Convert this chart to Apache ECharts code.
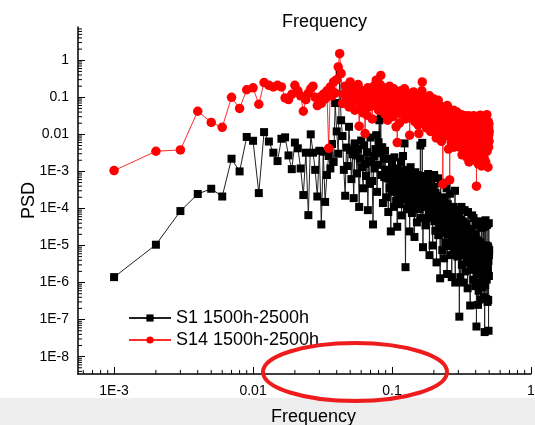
<!DOCTYPE html>
<html>
<head>
<meta charset="utf-8">
<title>PSD</title>
<script src="https://cdn.jsdelivr.net/npm/echarts@6/dist/echarts.min.js"></script>
<style>
  html, body { margin: 0; padding: 0; background: #fff; }
  #chart { width: 535px; height: 425px; }
</style>
</head>
<body>
<div id="chart"></div>
<script>
// spectrum bins are 0.001 apart: value i belongs to frequency (i + 1) * FREQ_STEP
const FREQ_STEP = 0.001;

const s1Psd = [
  1.4e-6, 1.05e-5, 8.5e-5, 2.45e-4, 3.4e-4, 2.1e-4, 2.2e-3, 1.0e-3, 8.5e-3, 6.7e-3,
  2.6e-4, 1.15e-2, 6.4e-3, 3.2e-3, 1.9e-3, 7.6e-3, 8.3e-3, 2.7e-3, 1.15e-3, 6.0e-3,
  4.2e-3, 1.2e-3, 2.3e-4, 3.2e-3, 6.6e-5, 1.0e-2, 3.2e-3, 1.1e-3, 2.1e-4, 3.6e-3,
  3.7e-5, 3.4e-3, 1.5e-4, 8.0e-4, 2.6e-3, 1.2e-3, 5.5e-3, 1.8e-3, 7.0e-2, 1.2e-2,
  3.0e-3, 4.4e-1, 2.4e-2, 9.0e-3, 1.1e-3, 2.2e-4, 4.4e-3, 1.4e-3, 1.6e-2, 3.8e-3,
  6.2e-4, 2.9e-3, 1.9e-4, 5.7e-3, 2.7e-3, 8.8e-4, 4.1e-3, 1.1e-4, 2.2e-3, 6.8e-3,
  1.3e-3, 3.5e-4, 5.1e-3, 1.6e-3, 7.5e-4, 3.3e-3, 9.0e-5, 2.0e-3, 4.6e-4, 8.2e-3,
  1.8e-3, 5.5e-4, 3.7e-5, 2.6e-3, 1.2e-3, 4.0e-3, 9.5e-3, 2.8e-4, 1.5e-3, 6.1e-3,
  2.4e-2, 3.1e-3, 2.7e-2, 8.0e-4, 4.5e-3, 1.4e-4, 2.2e-3, 7.0e-4, 3.6e-3, 1.1e-3,
  2.0e-4, 1.1e-3, 6.5e-4, 8.0e-5, 2.2e-3, 3.5e-4, 9.5e-4, 2.4e-5, 4.8e-4, 1.5e-3,
  // 0.101 - 0.200
  2.8e-4, 7.0e-4, 1.1e-4, 2.4e-3, 3.8e-4, 8.5e-4, 1.6e-4, 5.5e-4, 3.2e-5, 1.2e-3,
  2.4e-4, 4.5e-4, 1.0e-3, 1.3e-4, 3.0e-4, 1.8e-3, 6.5e-5, 7.0e-4, 1.9e-4, 2.6e-3,
  3.6e-4, 8.0e-4, 5.7e-3, 1.8e-4, 2.6e-6, 5.0e-4, 1.1e-3, 9.5e-5, 2.9e-4, 6.0e-4,
  1.5e-4, 8.5e-4, 4.0e-4, 2.4e-5, 3.2e-4, 1.3e-3, 2.0e-4, 4.8e-4, 7.5e-5, 7.5e-4,
  2.6e-4, 1.1e-4, 6.0e-4, 3.4e-4, 1.7e-5, 4.5e-4, 9.5e-4, 1.4e-4, 2.4e-4, 5.5e-4,
  4.2e-5, 3.5e-4, 8.0e-4, 1.7e-4, 2.7e-4, 6.5e-4, 9.5e-5, 3.8e-4, 2.0e-4, 5.0e-3,
  5.5e-5, 3.0e-4, 5.2e-4, 1.3e-4, 5.9e-3, 2.2e-4, 9.0e-6, 4.0e-4, 1.5e-4, 7.5e-4,
  2.8e-4, 1.1e-4, 4.8e-4, 3.5e-5, 2.3e-4, 6.0e-4, 1.4e-4, 3.2e-4, 5.5e-5, 4.0e-4,
  1.7e-4, 8.5e-4, 2.5e-4, 8.0e-5, 3.5e-4, 5.5e-6, 2.0e-4, 5.0e-4, 1.1e-4, 2.8e-4,
  4.4e-4, 6.5e-5, 2.2e-4, 3.3e-4, 1.5e-4, 1.0e-5, 2.4e-4, 3.8e-4, 9.0e-5, 1.8e-4,
  // 0.201 - 0.300
  8.0e-4, 4.5e-5, 2.0e-4, 1.2e-4, 2.5e-5, 2.6e-4, 7.5e-5, 1.6e-4, 3.5e-6, 1.4e-4,
  2.2e-4, 5.5e-5, 1.1e-4, 6.5e-4, 1.9e-5, 1.3e-4, 6.5e-5, 1.8e-4, 3.5e-5, 9.5e-5,
  1.5e-4, 1.3e-6, 5.0e-5, 5.0e-4, 8.0e-5, 2.8e-5, 1.4e-4, 4.0e-5, 2.0e-4, 7.5e-6,
  1.1e-4, 6.0e-5, 1.7e-4, 2.2e-5, 8.5e-5, 1.4e-4, 4.5e-6, 1.0e-4, 3.8e-5, 1.6e-4,
  7.0e-5, 1.2e-5, 1.2e-4, 4.8e-5, 9.0e-5, 3.0e-5, 3.5e-4, 6.0e-5, 1.7e-6, 1.0e-4,
  4.0e-5, 1.3e-4, 2.0e-5, 7.5e-5, 5.5e-5, 1.1e-4, 9.5e-6, 7.0e-5, 9.5e-5, 2.6e-5,
  2.5e-4, 4.4e-5, 8.5e-5, 5.5e-6, 6.5e-5, 1.0e-4, 3.2e-5, 5.0e-5, 1.4e-6, 8.0e-5,
  3.6e-5, 9.5e-5, 1.5e-5, 6.0e-5, 7.2e-5, 2.4e-5, 1.1e-4, 4.0e-5, 7.5e-6, 6.2e-5,
  8.8e-5, 3.0e-5, 4.8e-5, 3.0e-4, 1.0e-6, 7.0e-5, 3.6e-5, 1.8e-5, 7.6e-5, 5.2e-5,
  1.1e-5, 6.2e-5, 9.0e-5, 2.7e-5, 4.4e-5, 5.0e-6, 7.0e-5, 3.3e-5, 5.5e-5, 1.6e-5,
  // 0.301 - 0.400
  4.5e-5, 7.5e-5, 1.3e-5, 3.5e-5, 1.2e-7, 5.5e-5, 2.2e-5, 8.0e-6, 4.0e-5, 1.4e-6,
  2.8e-5, 5.0e-5, 1.5e-5, 3.3e-5, 9.5e-6, 1.1e-4, 2.0e-5, 3.0e-6, 3.8e-5, 2.4e-5,
  1.1e-5, 4.5e-5, 2.6e-5, 6.5e-6, 3.3e-5, 1.0e-6, 2.2e-5, 4.2e-5, 1.5e-5, 5.5e-6,
  3.2e-5, 1.8e-5, 9.0e-5, 8.0e-6, 2.6e-5, 1.3e-5, 2.0e-6, 3.5e-5, 1.7e-5, 2.4e-5,
  7.0e-6, 3.0e-5, 1.1e-5, 3.8e-5, 2.0e-5, 4.5e-6, 2.6e-5, 9.5e-6, 1.5e-5, 7.0e-7,
  2.2e-5, 8.0e-5, 7.5e-6, 1.7e-5, 2.8e-5, 3.4e-6, 1.9e-5, 1.2e-5, 2.4e-5, 5.5e-6,
  1.5e-5, 2.6e-5, 9.0e-6, 2.0e-5, 2.4e-7, 1.3e-5, 2.2e-5, 5.0e-6, 1.7e-5, 1.0e-5,
  2.8e-5, 6.5e-6, 1.9e-5, 1.1e-5, 2.2e-6, 1.6e-5, 6.5e-5, 8.0e-6, 1.4e-5, 3.8e-6,
  2.0e-5, 9.5e-6, 1.7e-5, 1.2e-6, 1.3e-5, 5.5e-5, 6.0e-6, 1.5e-5, 9.0e-6, 3.0e-6,
  1.8e-5, 1.1e-5, 5.0e-6, 1.6e-5, 7.5e-6, 2.0e-5, 8.0e-7, 1.3e-5, 9.5e-6, 4.0e-6,
  // 0.401 - 0.500
  8.5e-6, 4.0e-5, 3.0e-6, 1.1e-5, 6.5e-8, 6.0e-6, 1.4e-5, 1.7e-6, 9.5e-6, 4.5e-6,
  3.5e-5, 7.5e-6, 2.6e-6, 1.1e-5, 5.5e-6, 2.5e-7, 1.3e-5, 3.4e-6, 8.5e-6, 6.0e-7,
  1.2e-5, 6.0e-6, 2.0e-6, 1.0e-5, 4.2e-6, 4.5e-5, 2.8e-6, 7.0e-6, 1.0e-6, 9.0e-6,
  5.0e-6, 1.2e-5, 2.2e-6, 7.0e-6, 1.0e-5, 3.5e-7, 7.5e-6, 3.8e-6, 3.8e-5, 1.7e-6,
  5.8e-6, 9.0e-6, 2.6e-6, 3.0e-5, 4.5e-6, 7.5e-7, 8.0e-6, 6.0e-6, 3.2e-6, 1.0e-5,
  4.2e-6, 1.4e-6, 8.5e-6, 5.2e-6, 4.2e-5, 2.4e-6, 7.0e-6, 4.0e-7, 9.0e-6, 5.0e-6,
  1.9e-6, 7.5e-6, 5.5e-6, 4.6e-8, 3.2e-5, 3.0e-6, 6.5e-6, 8.5e-7, 8.0e-6, 4.5e-6,
  4.8e-5, 2.2e-6, 6.0e-6, 8.5e-6, 3.6e-7, 5.2e-6, 1.0e-5, 2.8e-6, 7.0e-6, 1.2e-6,
  8.5e-6, 4.2e-6, 3.6e-5, 1.9e-6, 6.5e-6, 7.5e-6, 3.0e-7, 5.0e-6, 9.5e-6, 2.4e-6,
  7.0e-6, 3.4e-7, 8.5e-6, 3.8e-6, 5.0e-8, 6.0e-6, 4.0e-5, 1.5e-6, 5.5e-6, 7.5e-6
];

const s14Psd = [
  1.05e-3, 3.5e-3, 3.8e-3, 4.2e-2, 2.1e-2, 1.55e-2, 1.0e-1, 5.0e-2, 1.6e-1, 1.8e-1,
  6.5e-2, 2.5e-1, 2.1e-1, 1.9e-1, 2.1e-1, 1.9e-1, 9.6e-2, 8.7e-2, 1.2e-1, 2.1e-1,
  1.5e-1, 1.1e-1, 4.2e-2, 8.7e-2, 1.3e-1, 1.7e-1, 2.0e-1, 1.0e-1, 6.0e-2, 1.0e-1,
  6.8e-2, 1.2e-1, 9.0e-2, 1.5e-1, 4.2e-3, 1.9e-1, 1.1e-1, 2.6e-1, 1.3e-1, 3.0e-1,
  6.6e-1, 1.5e+0, 4.4e-1, 6.8e-2, 1.2e-1, 2.0e-1, 8.0e-2, 1.5e-1, 5.5e-2, 2.6e-1,
  1.1e-1, 7.0e-2, 1.7e-1, 4.5e-2, 1.3e-1, 9.0e-2, 2.2e-1, 1.66e-2, 1.0e-1, 6.0e-2,
  1.5e-1, 3.8e-2, 1.2e-1, 1.05e-2, 8.0e-2, 3.3e-2, 1.8e-1, 5.5e-2, 1.1e-1, 7.5e-2,
  1.4e-1, 2.6e-2, 9.5e-2, 2.0e-1, 6.0e-2, 1.2e-1, 2.9e-1, 8.0e-2, 1.6e-1, 4.5e-2,
  1.0e-1, 2.2e-1, 3.9e-1, 7.0e-2, 1.3e-1, 5.0e-2, 1.8e-1, 9.0e-2, 3.5e-2, 1.2e-1,
  6.5e-2, 1.5e-1, 2.4e-2, 1.0e-1, 7.5e-2, 2.0e-1, 4.8e-2, 1.1e-1, 8.5e-2, 1.4e-1,
  // 0.101 - 0.200
  3.0e-2, 9.0e-2, 1.7e-1, 6.0e-2, 1.2e-1, 4.0e-2, 1.6e-2, 1.0e-1, 6.0e-3, 7.0e-2,
  1.3e-1, 5.0e-2, 2.0e-2, 9.5e-2, 6.5e-2, 1.5e-1, 3.5e-2, 8.0e-2, 1.1e-1, 4.5e-2,
  7.0e-2, 1.2e-1, 1.7e-1, 5.5e-2, 2.6e-2, 9.0e-2, 6.0e-2, 1.3e-1, 3.8e-2, 8.0e-2,
  1.0e-1, 4.2e-2, 6.5e-2, 9.5e-3, 1.1e-1, 5.0e-2, 7.5e-2, 2.8e-2, 1.2e-1, 6.0e-2,
  8.5e-2, 3.2e-2, 1.4e-1, 5.5e-2, 7.0e-2, 2.2e-2, 9.5e-2, 4.5e-2, 6.5e-2, 1.1e-1,
  3.8e-2, 7.5e-2, 5.0e-2, 1.8e-2, 9.0e-2, 1.05e-2, 6.0e-2, 4.0e-2, 1.2e-1, 5.5e-2,
  2.6e-2, 8.0e-2, 4.5e-2, 1.5e-1, 2.6e-1, 6.5e-2, 3.0e-2, 9.5e-2, 5.0e-2, 7.0e-2,
  2.0e-2, 6.0e-2, 1.0e-1, 3.5e-2, 5.5e-2, 8.5e-2, 1.5e-2, 4.5e-2, 7.0e-2, 3.0e-2,
  9.0e-2, 5.0e-2, 2.4e-2, 6.5e-2, 4.0e-2, 1.1e-1, 3.2e-2, 5.5e-2, 1.2e-2, 7.5e-2,
  4.2e-2, 6.0e-2, 2.8e-2, 8.0e-2, 3.6e-2, 5.0e-2, 1.8e-2, 6.5e-2, 4.5e-2, 9.0e-2,
  // 0.201 - 0.300
  3.0e-2, 5.5e-2, 1.4e-2, 4.0e-2, 6.5e-2, 2.2e-2, 4.8e-2, 8.0e-3, 3.5e-2, 6.0e-2,
  2.6e-2, 4.5e-2, 1.6e-2, 3.8e-2, 8.3e-2, 2.0e-2, 5.0e-2, 3.0e-2, 1.1e-2, 4.2e-2,
  2.4e-2, 5.8e-2, 3.3e-2, 1.3e-2, 4.6e-2, 2.8e-2, 6.5e-3, 3.6e-2, 5.2e-2, 1.9e-2,
  3.0e-2, 4.5e-4, 4.0e-2, 2.2e-2, 5.5e-2, 1.5e-2, 3.4e-2, 2.6e-2, 4.4e-2, 9.5e-3,
  3.8e-2, 2.0e-2, 5.0e-2, 2.9e-2, 1.2e-2, 3.6e-2, 4.6e-2, 1.8e-2, 2.4e-2, 6.0e-2,
  2.4e-2, 9.0e-3, 3.2e-2, 1.6e-2, 4.0e-3, 2.6e-2, 3.8e-2, 1.2e-2, 2.0e-2, 5.9e-4,
  1.8e-2, 3.3e-2, 8.5e-3, 2.5e-2, 1.4e-2, 4.2e-2, 6.0e-3, 2.1e-2, 3.0e-2, 1.1e-2,
  2.7e-2, 1.5e-2, 3.6e-2, 7.5e-3, 2.2e-2, 1.2e-2, 4.5e-2, 1.8e-2, 4.5e-3, 2.9e-2,
  1.5e-2, 3.4e-2, 9.5e-3, 2.3e-2, 1.7e-2, 3.8e-2, 6.5e-3, 2.6e-2, 1.3e-2, 3.0e-2,
  8.5e-3, 2.1e-2, 4.0e-2, 1.5e-2, 2.7e-2, 5.0e-3, 1.9e-2, 3.3e-2, 1.1e-2, 2.4e-2,
  // 0.301 - 0.400
  1.4e-2, 3.5e-2, 7.5e-3, 2.1e-2, 1.2e-2, 2.9e-2, 4.5e-3, 1.7e-2, 3.0e-2, 9.5e-3,
  2.3e-2, 1.5e-2, 5.5e-3, 2.6e-2, 1.1e-2, 3.4e-2, 8.0e-3, 1.9e-2, 2.8e-3, 2.4e-2,
  1.4e-2, 9.5e-3, 3.0e-2, 6.0e-3, 2.0e-2, 1.5e-2, 2.8e-2, 8.5e-3, 1.3e-2, 3.8e-3,
  2.4e-2, 1.1e-2, 3.2e-2, 7.0e-3, 1.8e-2, 2.6e-2, 5.0e-3, 1.5e-2, 2.2e-2, 9.5e-3,
  3.0e-2, 1.3e-2, 6.5e-3, 2.4e-2, 1.6e-2, 2.4e-3, 2.0e-2, 1.0e-2, 2.8e-2, 7.5e-3,
  1.6e-2, 2.3e-2, 5.5e-3, 1.8e-2, 3.2e-2, 8.5e-3, 1.4e-2, 1.8e-3, 2.5e-2, 1.1e-2,
  7.0e-3, 2.1e-2, 1.5e-2, 2.8e-2, 4.5e-3, 1.7e-2, 1.0e-2, 2.4e-2, 7.5e-3, 1.9e-2,
  1.3e-2, 3.0e-2, 6.0e-3, 1.6e-2, 2.2e-2, 3.2e-3, 1.3e-2, 2.6e-2, 8.5e-3, 2.0e-2,
  1.1e-2, 2.4e-2, 1.5e-2, 5.0e-3, 2.0e-2, 1.2e-2, 3.2e-2, 7.5e-3, 1.7e-2, 2.0e-3,
  2.2e-2, 1.4e-2, 6.5e-3, 2.7e-2, 1.0e-2, 1.9e-2, 4.0e-3, 1.3e-2, 2.4e-2, 8.5e-3,
  // 0.401 - 0.500
  1.8e-2, 6.5e-3, 2.2e-2, 1.1e-2, 4.0e-4, 1.6e-2, 8.0e-3, 2.5e-2, 1.2e-2, 3.5e-3,
  2.0e-2, 9.5e-3, 1.4e-2, 5.0e-3, 2.6e-2, 1.0e-2, 1.6e-3, 1.7e-2, 7.5e-3, 1.3e-2,
  2.3e-2, 6.0e-3, 1.5e-2, 9.0e-3, 2.1e-2, 2.6e-3, 1.2e-2, 7.0e-3, 1.9e-2, 1.0e-2,
  3.3e-2, 8.0e-3, 1.4e-2, 4.2e-3, 1.8e-2, 1.1e-2, 2.4e-2, 6.5e-3, 1.5e-2, 9.0e-3,
  1.4e-3, 2.0e-2, 1.0e-2, 1.6e-2, 5.5e-3, 2.5e-2, 8.0e-3, 1.3e-2, 3.2e-3, 1.7e-2,
  1.0e-2, 2.3e-2, 6.5e-3, 1.4e-2, 8.5e-3, 1.9e-2, 2.2e-3, 1.2e-2, 9.0e-3, 2.1e-2,
  6.0e-3, 1.5e-2, 1.1e-2, 2.6e-2, 4.0e-3, 1.3e-2, 7.5e-3, 1.8e-2, 1.0e-2, 1.6e-2,
  7.0e-3, 1.8e-3, 1.4e-2, 8.5e-3, 2.2e-2, 5.0e-3, 1.2e-2, 1.7e-2, 6.5e-3, 1.3e-2,
  3.4e-2, 9.0e-3, 3.5e-3, 1.5e-2, 8.0e-3, 2.0e-2, 1.1e-2, 6.0e-3, 1.6e-2, 1.3e-3,
  1.3e-2, 7.5e-3, 2.2e-2, 9.5e-3, 4.5e-3, 1.5e-2, 1.0e-2, 1.9e-2, 6.5e-3, 1.2e-2
];

const seriesNames = ['S1 1500h-2500h', 'S14 1500h-2500h'];

// tick labels per decade, keyed by exponent
const xTickLabels = { '-3': '1E-3', '-2': '0.01', '-1': '0.1', '0': '1' };
const yTickLabels = {
  '-8': '1E-8', '-7': '1E-7', '-6': '1E-6', '-5': '1E-5', '-4': '1E-4',
  '-3': '1E-3', '-2': '0.01', '-1': '0.1', '0': '1'
};

const X_MIN = 5.5e-4, X_MAX = 1;
const Y_MIN = 3.4e-9, Y_MAX = 7.9;

const FONT = '"Liberation Sans", Arial, sans-serif';

// log minor ticks (2..9 in each decade), drawn through the axes' own scale
const minorX = [];
for (let e = -4; e <= -1; e++) {
  for (let m = 2; m <= 9; m++) {
    const v = m * Math.pow(10, e);
    if (v > X_MIN && v < X_MAX) minorX.push(v);
  }
}
const minorY = [];
for (let e = -9; e <= 0; e++) {
  for (let m = 2; m <= 9; m++) {
    const v = m * Math.pow(10, e);
    if (v > Y_MIN && v < Y_MAX) minorY.push(v);
  }
}
const minorTickData = minorX.map(v => [v, Y_MIN, 0])
  .concat(minorY.map(v => [X_MIN, v, 1]));

const toPoints = arr => arr.map((v, i) => [(i + 1) * FREQ_STEP, v]);

const decadeLabel = table => v => {
  const e = Math.round(Math.log10(v));
  return table[String(e)] || '';
};

const chart = echarts.init(document.getElementById('chart'), null, { renderer: 'canvas' });

chart.setOption({
  animation: false,
  backgroundColor: '#fff',
  textStyle: { fontFamily: FONT },
  title: {
    text: 'Frequency',
    left: 277,
    top: 8,
    textStyle: { fontSize: 18, fontWeight: 'normal', color: '#000', fontFamily: FONT }
  },
  grid: {
    left: 78, right: 4, top: 27, bottom: 51,
    containLabel: false,
    outerBoundsMode: 'none'
  },
  legend: {
    data: seriesNames,
    orient: 'vertical',
    left: 128,
    top: 309,
    padding: 0,
    itemWidth: 42,
    itemHeight: 9,
    itemGap: 4,
    textStyle: { fontSize: 18, color: '#000', fontFamily: FONT }
  },
  xAxis: {
    type: 'log',
    min: X_MIN,
    max: X_MAX,
    splitNumber: 4,
    name: 'Frequency',
    nameLocation: 'middle',
    nameGap: 34,
    nameMoveOverlap: false,
    nameTextStyle: { fontSize: 18, color: '#000', fontFamily: FONT, padding: [0, 0, 0, 18] },
    axisLine: { lineStyle: { color: '#000', width: 1.5 } },
    axisTick: { inside: true, length: 7, lineStyle: { color: '#000', width: 1 } },
    axisLabel: {
      color: '#000', fontSize: 14, fontFamily: FONT, margin: 10,
      showMinLabel: false, showMaxLabel: true,
      formatter: decadeLabel(xTickLabels)
    },
    splitLine: { show: false }
  },
  yAxis: {
    type: 'log',
    min: Y_MIN,
    max: Y_MAX,
    splitNumber: 10,
    name: 'PSD',
    nameLocation: 'middle',
    nameGap: 40,
    nameMoveOverlap: false,
    nameTextStyle: { fontSize: 18, color: '#000', fontFamily: FONT },
    axisLine: { lineStyle: { color: '#000', width: 1.5 } },
    axisTick: { inside: true, length: 7, lineStyle: { color: '#000', width: 1 } },
    axisLabel: {
      color: '#000', fontSize: 14, fontFamily: FONT, margin: 9,
      showMinLabel: false, showMaxLabel: false,
      formatter: decadeLabel(yTickLabels)
    },
    splitLine: { show: false }
  },
  graphic: [
    {
      type: 'rect',
      z: -10,
      shape: { x: 0, y: 398, width: 535, height: 27 },
      style: { fill: '#eeeeee' }
    },
    {
      type: 'ellipse',
      z: 100,
      shape: { cx: 355, cy: 372, rx: 92, ry: 29 },
      style: { fill: 'none', stroke: '#ee1c1c', lineWidth: 4 }
    }
  ],
  series: [
    {
      name: seriesNames[0],
      type: 'line',
      data: toPoints(s1Psd),
      symbol: 'rect',
      symbolSize: 8,
      showAllSymbol: true,
      itemStyle: { color: '#000' },
      lineStyle: { color: '#222', width: 1 },
      silent: true,
      z: 2
    },
    {
      name: seriesNames[1],
      type: 'line',
      data: toPoints(s14Psd),
      symbol: 'circle',
      symbolSize: 9.5,
      showAllSymbol: true,
      itemStyle: { color: '#ff0000' },
      lineStyle: { color: '#ff2a2a', width: 1 },
      silent: true,
      z: 3
    },
    {
      name: 'minor ticks',
      type: 'custom',
      data: minorTickData,
      encode: { x: 0, y: 1 },
      clip: false,
      silent: true,
      z: 5,
      renderItem: (params, api) => {
        const p = api.coord([api.value(0), api.value(1)]);
        const onY = api.value(2) === 1;
        return {
          type: 'line',
          shape: onY
            ? { x1: p[0], y1: p[1], x2: p[0] + 4, y2: p[1] }
            : { x1: p[0], y1: p[1], x2: p[0], y2: p[1] - 4 },
          style: { stroke: '#000', lineWidth: 1 }
        };
      }
    }
  ]
});
</script>
</body>
</html>
